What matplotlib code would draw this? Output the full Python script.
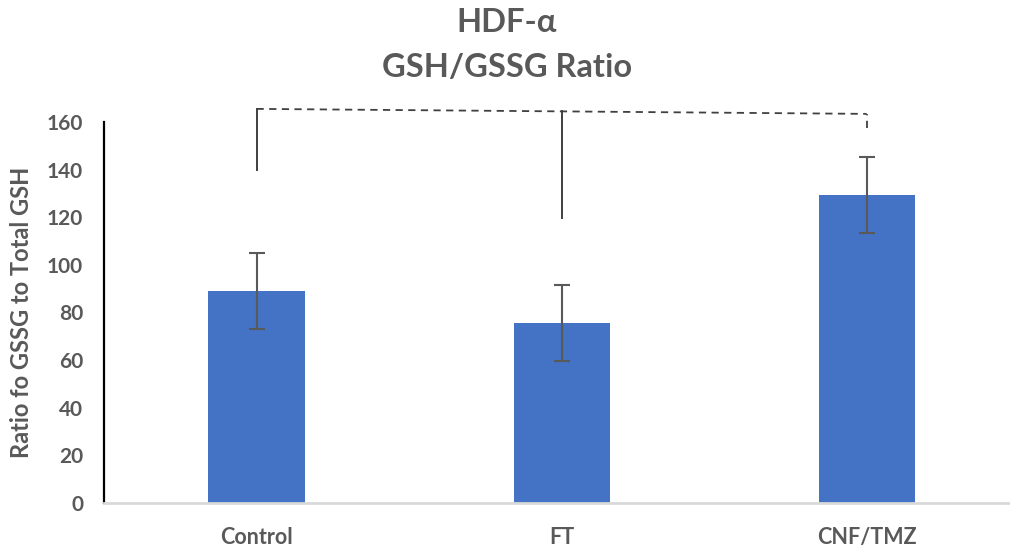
import matplotlib
matplotlib.use('Agg')
import matplotlib.pyplot as plt

groups = ['Control', 'FT', 'CNF/TMZ']
ratio = [89, 75.6, 129.4]
err = [16, 16, 16]

# significance bracket pieces (y values in data units)
ctrl_line = [140, 165.5]
ft_line = [119.7, 164.7]
cnf_line = [157.5, 163.4]

plt.rcParams['font.family'] = ['Lato', 'DejaVu Sans']
grey = '#595959'

fig = plt.figure(figsize=(10.10, 5.46), dpi=100)
ax = fig.add_axes([0.103, 0.0788, 0.906, 0.6978])

x = range(len(groups))
ax.bar(x, ratio, width=0.315, color='#4472C4', zorder=2)
ax.errorbar(x, ratio, yerr=err, fmt='none', ecolor=grey, elinewidth=1.5,
            capsize=6, capthick=1.5, zorder=3)

ax.set_xlim(-0.5, 2.5)
ax.set_ylim(0, 160)
ax.set_yticks(range(0, 161, 20))
ax.set_xticks(list(x))
ax.set_xticklabels(groups)

for lab in ax.get_yticklabels():
    lab.set_fontweight('bold')
    lab.set_color(grey)
    lab.set_fontsize(15)
for lab in ax.get_xticklabels():
    lab.set_fontweight('bold')
    lab.set_color(grey)
    lab.set_fontsize(15.5)
ax.tick_params(axis='both', length=0)
ax.tick_params(axis='y', pad=15)
ax.tick_params(axis='x', pad=17)

ax.spines['top'].set_visible(False)
ax.spines['right'].set_visible(False)
ax.spines['left'].set_color('black')
ax.spines['left'].set_linewidth(1.6)
ax.spines['bottom'].set_color('#d9d9d9')
ax.spines['bottom'].set_linewidth(2)

ax.set_ylabel('Ratio fo GSSG to Total GSH', fontsize=17, fontweight='bold',
              color=grey, labelpad=10)

# bracket
ax.plot([0, 0], ctrl_line, color='#404040', lw=1.4, clip_on=False)
ax.plot([1, 1], ft_line, color='#404040', lw=1.4, clip_on=False)
ax.plot([0, 2], [ctrl_line[1], cnf_line[1]], color='#404040', lw=1.3,
        ls=(0, (4, 3)), clip_on=False)
ax.plot([2, 2], cnf_line, color='#404040', lw=1.3, ls=(0, (4, 3)), clip_on=False)

fig.text(0.502, 0.958, 'HDF-α', ha='center', va='center', fontsize=23.5,
         fontweight='bold', color=grey)
fig.text(0.502, 0.877, 'GSH/GSSG Ratio', ha='center', va='center', fontsize=23.5,
         fontweight='bold', color=grey)

fig.savefig('out.png', dpi=100)
